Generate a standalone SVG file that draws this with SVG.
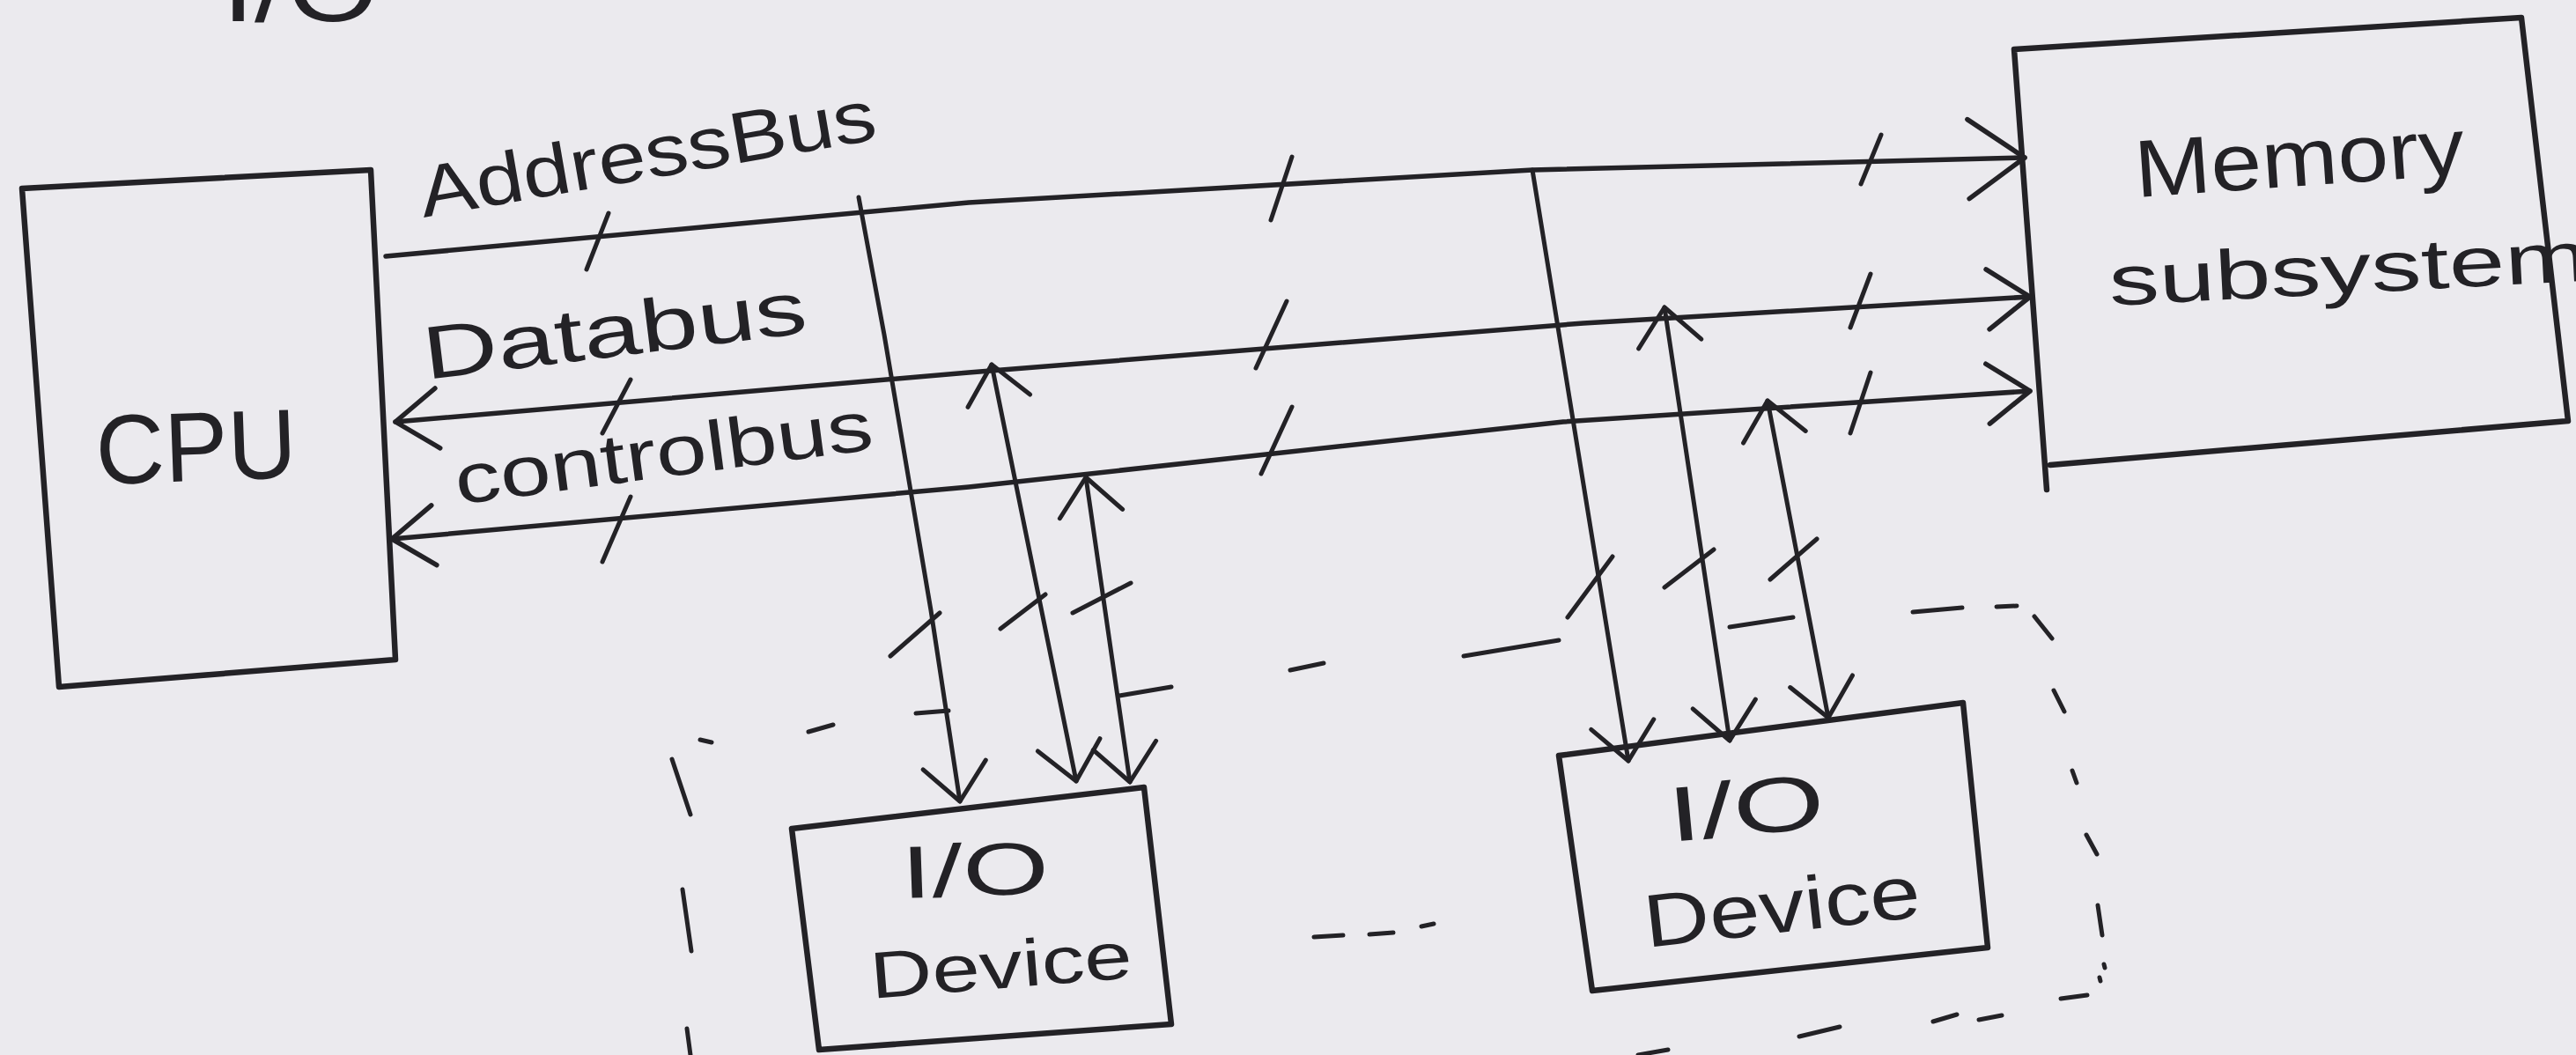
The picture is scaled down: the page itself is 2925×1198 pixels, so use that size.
<svg xmlns="http://www.w3.org/2000/svg" width="2925" height="1198" viewBox="0 0 2925 1198">
<style>
.ink{fill:none;stroke:#232226;stroke-linecap:round;stroke-linejoin:round}
.box{stroke-width:6.5}
.bus{stroke-width:5.5}
.thin{stroke-width:5}
.lbl{font-family:"Liberation Sans","DejaVu Sans",sans-serif;fill:#232226}
</style>
<defs>
<marker id="ahBig" markerUnits="userSpaceOnUse" orient="auto-start-reverse" overflow="visible" markerWidth="1" markerHeight="1">
<path class="ink" stroke-width="5.5" d="M-64,-45 L0,0 L-64,45"/>
</marker>
<marker id="ah" markerUnits="userSpaceOnUse" orient="auto-start-reverse" overflow="visible" markerWidth="1" markerHeight="1">
<path class="ink" stroke-width="5.5" d="M-48,-34 L0,0 L-48,34"/>
</marker>
<marker id="ahV" markerUnits="userSpaceOnUse" orient="auto-start-reverse" overflow="visible" markerWidth="1" markerHeight="1">
<path class="ink" stroke-width="5" d="M-42,-36 L0,0 L-42,36"/>
</marker>
</defs>
<rect width="2925" height="1198" fill="#ebeaee"/>

<text class="lbl" x="252" y="24" font-size="110" textLength="178" lengthAdjust="spacingAndGlyphs">I/O</text>

<g id="cpu">
<path class="ink box" d="M25,214 L421,193 L449,749 L67,780 Z"/>
<text class="lbl" x="110" y="550" font-size="112" textLength="228" lengthAdjust="spacingAndGlyphs" transform="rotate(-2 110 550)">CPU</text>
</g>

<g id="memory">
<path class="ink box" d="M2287,56 L2863,20 L2916,478 L2328,528 M2287,56 L2324,556"/>
<text class="lbl" x="2426" y="224" font-size="92" textLength="375" lengthAdjust="spacingAndGlyphs" transform="rotate(-4 2426 224)">Memory</text>
<text class="lbl" x="2396" y="347" font-size="80" textLength="545" lengthAdjust="spacingAndGlyphs" transform="rotate(-3 2396 347)">subsystem</text>
</g>

<g id="io1">
<path class="ink box" d="M899,941 L1299,894 L1330,1163 L930,1192 Z"/>
<text class="lbl" x="1024" y="1020" font-size="84" textLength="168" lengthAdjust="spacingAndGlyphs" transform="rotate(-2 1024 1020)">I/O</text>
<text class="lbl" x="990" y="1134" font-size="75" textLength="298" lengthAdjust="spacingAndGlyphs" transform="rotate(-4.6 990 1134)">Device</text>
</g>

<g id="io2">
<path class="ink box" d="M1770,858 L2229,798 L2257,1076 L1808,1125 Z"/>
<text class="lbl" x="1897" y="956" font-size="88" textLength="178" lengthAdjust="spacingAndGlyphs" transform="rotate(-5.4 1897 956)">I/O</text>
<text class="lbl" x="1870" y="1076" font-size="85" textLength="315" lengthAdjust="spacingAndGlyphs" transform="rotate(-6.4 1870 1076)">Device</text>
</g>

<g id="labels">
<text class="lbl" x="481" y="247" font-size="82" textLength="525" lengthAdjust="spacingAndGlyphs" transform="rotate(-9.8 481 247)">AddressBus</text>
<text class="lbl" x="484" y="431" font-size="85" textLength="438" lengthAdjust="spacingAndGlyphs" transform="rotate(-7 484 431)">Databus</text>
<text class="lbl" x="520" y="573" font-size="80" textLength="478" lengthAdjust="spacingAndGlyphs" transform="rotate(-7.6 520 573)">controlbus</text>
</g>

<g id="connectors">
<path class="ink bus" d="M438,291 L1100,230 L1740,193 L2299,179" marker-end="url(#ahBig)"/>
<path class="ink bus" d="M449,479 L1100,423 L1798,367 L2305,337" marker-start="url(#ah)" marker-end="url(#ah)"/>
<path class="ink bus" d="M445,612 L1100,553 L1775,479 L2305,444" marker-start="url(#ah)" marker-end="url(#ah)"/>
<path class="ink thin" d="M975,224 L1004,380 L1057,693 L1090,910" marker-end="url(#ahV)"/>
<path class="ink thin" d="M1126,414 L1222,887" marker-start="url(#ahV)" marker-end="url(#ahV)"/>
<path class="ink thin" d="M1233,542 L1283,888" marker-start="url(#ahV)" marker-end="url(#ahV)"/>
<path class="ink thin" d="M1740,193 L1849,864" marker-end="url(#ahV)"/>
<path class="ink thin" d="M1890,349 L1964,841" marker-start="url(#ahV)" marker-end="url(#ahV)"/>
<path class="ink thin" d="M2007,455 L2076,815" marker-start="url(#ahV)" marker-end="url(#ahV)"/>
</g>

<g id="bus-width-ticks">
<path class="ink thin" d="M691,242 L666,306 M1467,178 L1443,250 M2136,153 L2113,209 M716,431 L684,492 M1461,342 L1426,418 M2124,311 L2101,372 M716,564 L684,638 M1467,462 L1432,538 M2124,423 L2101,492 M1011,745 L1067,696 M1136,714 L1187,675 M1218,696 L1284,662 M1780,701 L1831,632 M1890,667 L1946,624 M2010,658 L2063,612"/>
</g>

<g id="io-enclosure">
<path class="ink thin" d="M763,862 L784,925 M775,1010 L785,1080 M780,1168 L784,1198 M795,840 L808,843 M918,831 L946,823 M1040,810 L1077,807 M1271,790 L1330,780 M1465,761 L1503,753 M1662,745 L1770,727 M1964,712 L2036,701 M2172,695 L2228,690 M2267,689 L2290,688 M2310,700 L2330,725 M2332,784 L2344,808 M2353,875 L2358,889 M2369,948 L2381,970 M2382,1028 L2387,1062 M2389,1095 L2390,1099 M2384,1110 L2385,1114 M2340,1134 L2370,1130 M2195,1160 L2222,1152 M2247,1158 L2273,1153 M2043,1177 L2089,1166 M1860,1198 L1894,1192"/>
<path class="ink thin" d="M1492,1064 L1525,1062 M1555,1061 L1582,1059 M1614,1052 L1628,1049"/>
</g>
</svg>
